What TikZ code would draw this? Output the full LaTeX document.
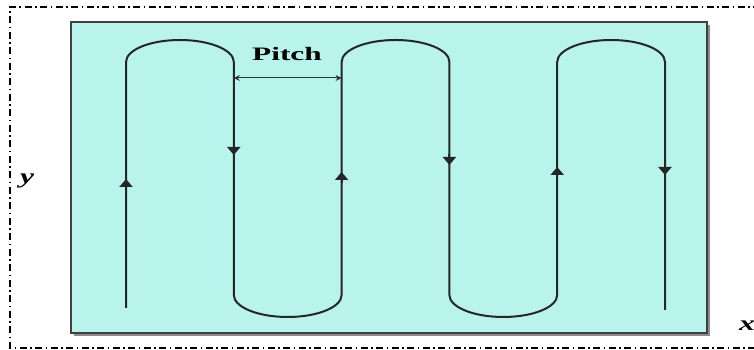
\documentclass[tikz,border=0pt]{standalone}
\usepackage{fontspec}
\setmainfont{Liberation Serif}
\usetikzlibrary{arrows.meta}
\definecolor{pool}{HTML}{B8F4EC}
\tikzset{
  scan/.style={line width=2pt, draw=black!85},
  dirhead/.style={-{Triangle[width=13pt,length=8pt]}, line width=2pt, draw=black!85},
  frame/.style={line width=1.6pt, dash pattern=on 7pt off 3.5pt on 1.5pt off 3.5pt},
  lbl/.style={inner sep=0pt},
  axlbl/.style={inner sep=0pt, xscale=1.5, font=\bfseries\itshape\fontsize{21}{23}\selectfont}
}
\begin{document}
\begin{tikzpicture}[x=1pt,y=1pt]
\useasboundingbox (0,0) rectangle (754,350);
% dash-dot frame (left, top, bottom)
\draw[frame] (760,343) -- (10,343) -- (10,2) -- (760,2);
% plate
\fill[black!45] (74,14) rectangle (710,325);
\draw[fill=pool, line width=2pt, draw=black!75] (71,17) rectangle (707,328);
% serpentine scan path
\coordinate (s) at (126,42);
\coordinate (e) at (665,40);
\draw[scan] (s) -- (126,288)
  arc[start angle=180,end angle=0,x radius=53.9,y radius=22] -- (233.8,55)
  arc[start angle=180,end angle=360,x radius=53.9,y radius=22] -- (341.6,288)
  arc[start angle=180,end angle=0,x radius=53.9,y radius=22] -- (449.4,55)
  arc[start angle=180,end angle=360,x radius=53.9,y radius=22] -- (557.2,288)
  arc[start angle=180,end angle=0,x radius=53.9,y radius=22] -- (e);
% direction arrowheads
\draw[dirhead] (126,160) -- (126,171);
\draw[dirhead] (233.8,206) -- (233.8,195);
\draw[dirhead] (341.6,167) -- (341.6,178);
\draw[dirhead] (449.4,196) -- (449.4,185);
\draw[dirhead] (557.2,172) -- (557.2,183);
\draw[dirhead] (665,186) -- (665,175);
% pitch
\coordinate (pa) at (233.8,272);
\coordinate (pb) at (341.6,272);
\draw[{Stealth[width=6pt,length=6pt]}-{Stealth[width=6pt,length=6pt]}, line width=1pt, draw=black!80] (pa) -- (pb);
\node[lbl, xscale=1.65, font=\bfseries\fontsize{19}{21}\selectfont] (pitch) at (287,296) {Pitch};
% axis labels
\node[axlbl] (ylab) at (27,169) {y};
\node[axlbl] (xlab) at (747,24) {x};
\end{tikzpicture}
\end{document}
